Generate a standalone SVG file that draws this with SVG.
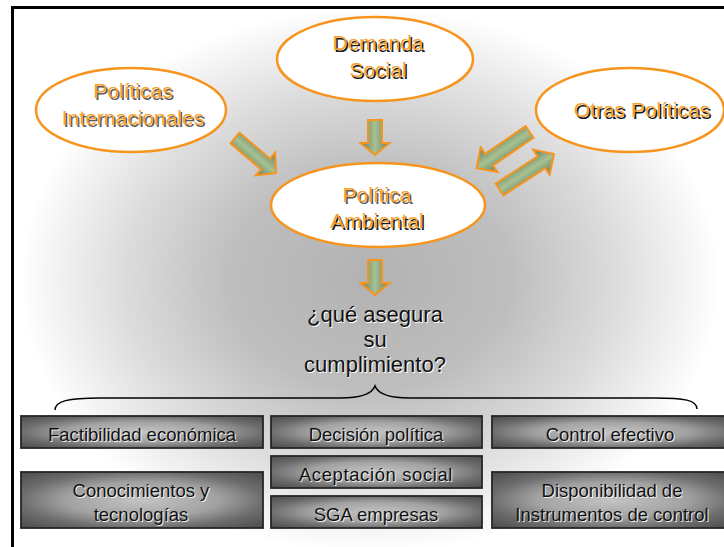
<svg xmlns="http://www.w3.org/2000/svg" width="724" height="547" viewBox="0 0 724 547">
<defs>
<radialGradient id="bg" gradientUnits="userSpaceOnUse" cx="370" cy="280" r="350" gradientTransform="translate(370 280) scale(1 0.78) translate(-370 -280)">
<stop offset="0" stop-color="#b2b2b2"/>
<stop offset="0.4" stop-color="#bebebe"/>
<stop offset="0.7" stop-color="#dcdcdc"/>
<stop offset="0.9" stop-color="#f3f3f3"/>
<stop offset="1" stop-color="#ffffff"/>
</radialGradient>
<radialGradient id="boxg" cx="0.5" cy="0.5" r="0.7">
<stop offset="0" stop-color="#c4c4c4"/>
<stop offset="0.45" stop-color="#a2a2a2"/>
<stop offset="0.72" stop-color="#6c6c6c"/>
<stop offset="1" stop-color="#4c4c4c"/>
</radialGradient>
<linearGradient id="arrg" x1="0" y1="0" x2="0" y2="1">
<stop offset="0" stop-color="#6a7b5b"/>
<stop offset="0.5" stop-color="#a6c192"/>
<stop offset="1" stop-color="#6a7b5b"/>
</linearGradient>
</defs>
<style>
.ell{fill:#ffffff;stroke:#f7941d;stroke-width:2.5}
.et{font-family:"Liberation Sans",Arial,sans-serif;font-size:21px;text-anchor:middle;fill:#f7a12a}
.es{font-family:"Liberation Sans",Arial,sans-serif;font-size:21px;text-anchor:middle;fill:#1a1a1a}
.arr{fill:url(#arrg);stroke:#f7941d;stroke-width:2;stroke-linejoin:miter}
.box{fill:url(#boxg);stroke:#262626;stroke-width:1.8}
.bt{font-family:"Liberation Sans",Arial,sans-serif;font-size:18.5px;text-anchor:middle;fill:#111111}
.bs{font-family:"Liberation Sans",Arial,sans-serif;font-size:18.5px;text-anchor:middle;fill:#ffffff;opacity:0.85}
.qt{font-family:"Liberation Sans",Arial,sans-serif;font-size:22px;text-anchor:middle;fill:#111111}
.qs{font-family:"Liberation Sans",Arial,sans-serif;font-size:22px;text-anchor:middle;fill:#ffffff}
</style>
<rect x="0" y="0" width="724" height="547" fill="#ffffff"/>
<rect x="14" y="9" width="710" height="538" fill="url(#bg)"/>
<rect x="11" y="6" width="713" height="3" fill="#000000"/>
<rect x="11" y="6" width="3" height="541" fill="#000000"/>

<g id="connectors">
<path class="arr" transform="translate(375 120) rotate(90)" d="M0,-7 H23 V-14.5 L35,0 L23,14.5 V7 H0 Z"/>
<path class="arr" transform="translate(375 260) rotate(90)" d="M0,-7 H23 V-14.5 L35,0 L23,14.5 V7 H0 Z"/>
<path class="arr" transform="translate(235 138) rotate(40.5)" d="M0,-7 H40 V-15 L54,0 L40,15 V7 H0 Z"/>
<path class="arr" transform="translate(529.5 132) rotate(145.6)" d="M0,-7 H49 V-15 L64,0 L49,15 V7 H0 Z"/>
<path class="arr" transform="translate(499.5 189.5) rotate(-33.1)" d="M0,-7 H50 V-15 L65,0 L50,15 V7 H0 Z"/>
<path d="M55,410 C55,401 68,398 100,398 L340,398 C362,398 372,394 375,386 C378,394 388,398 410,398 L655,398 C684,398 697,400 697,409" fill="none" stroke="#000000" stroke-width="1.5"/>
</g>

<g id="internacionales">
<ellipse class="ell" cx="131" cy="110" rx="95" ry="42"/>
<text class="es" x="134.5" y="99.5" style="fill:#5a5a5a">Políticas</text>
<text class="et" x="133" y="98">Políticas</text>
<text class="es" x="134.5" y="126.5" style="fill:#5a5a5a">Internacionales</text>
<text class="et" x="133" y="125">Internacionales</text>
</g>

<g id="demanda">
<ellipse class="ell" cx="375" cy="59" rx="98" ry="42"/>
<text class="es" x="379.5" y="51.5" font-size="22">Demanda</text>
<text class="et" x="378" y="50" font-size="22">Demanda</text>
<text class="es" x="379.5" y="78.5" font-size="22">Social</text>
<text class="et" x="378" y="77" font-size="22">Social</text>
</g>

<g id="otras">
<ellipse class="ell" cx="630" cy="110" rx="94" ry="42"/>
<text class="es" x="643.5" y="118.5">Otras Políticas</text>
<text class="et" x="642" y="117">Otras Políticas</text>
</g>

<g id="ambiental">
<ellipse class="ell" cx="378" cy="205" rx="107" ry="42"/>
<text class="es" x="378.5" y="203.5" style="fill:#5a5a5a">Política</text>
<text class="et" x="377" y="202">Política</text>
<text class="es" x="378.5" y="229.5">Ambiental</text>
<text class="et" x="377" y="228">Ambiental</text>
</g>

<g id="pregunta">
<text class="qs" x="376" y="323">¿qué asegura</text>
<text class="qt" x="375" y="322">¿qué asegura</text>
<text class="qs" x="376" y="348">su</text>
<text class="qt" x="375" y="347">su</text>
<text class="qs" x="376" y="373">cumplimiento?</text>
<text class="qt" x="375" y="372">cumplimiento?</text>
</g>

<g id="factibilidad">
<rect class="box" x="21" y="416" width="242" height="32"/>
<text class="bs" x="143" y="442">Factibilidad económica</text>
<text class="bt" x="142" y="441">Factibilidad económica</text>
</g>
<g id="decision">
<rect class="box" x="271" y="416" width="211" height="32"/>
<text class="bs" x="377" y="442">Decisión política</text>
<text class="bt" x="376" y="441">Decisión política</text>
</g>
<g id="control">
<rect class="box" x="492" y="416" width="240" height="32"/>
<text class="bs" x="611" y="442">Control efectivo</text>
<text class="bt" x="610" y="441">Control efectivo</text>
</g>
<g id="aceptacion">
<rect class="box" x="271" y="456" width="211" height="32"/>
<text class="bs" x="377" y="482" letter-spacing="0.6">Aceptación social</text>
<text class="bt" x="376" y="481" letter-spacing="0.6">Aceptación social</text>
</g>
<g id="sga">
<rect class="box" x="271" y="496" width="211" height="32"/>
<text class="bs" x="377" y="522">SGA empresas</text>
<text class="bt" x="376" y="521">SGA empresas</text>
</g>
<g id="conocimientos">
<rect class="box" x="21" y="472" width="242" height="56"/>
<text class="bs" x="142" y="498">Conocimientos y</text>
<text class="bt" x="141" y="497">Conocimientos y</text>
<text class="bs" x="142" y="522">tecnologías</text>
<text class="bt" x="141" y="521">tecnologías</text>
</g>
<g id="disponibilidad">
<rect class="box" x="492" y="472" width="240" height="56"/>
<text class="bs" x="613" y="498">Disponibilidad de</text>
<text class="bt" x="612" y="497">Disponibilidad de</text>
<text class="bs" x="613" y="522">Instrumentos de control</text>
<text class="bt" x="612" y="521">Instrumentos de control</text>
</g>
</svg>
